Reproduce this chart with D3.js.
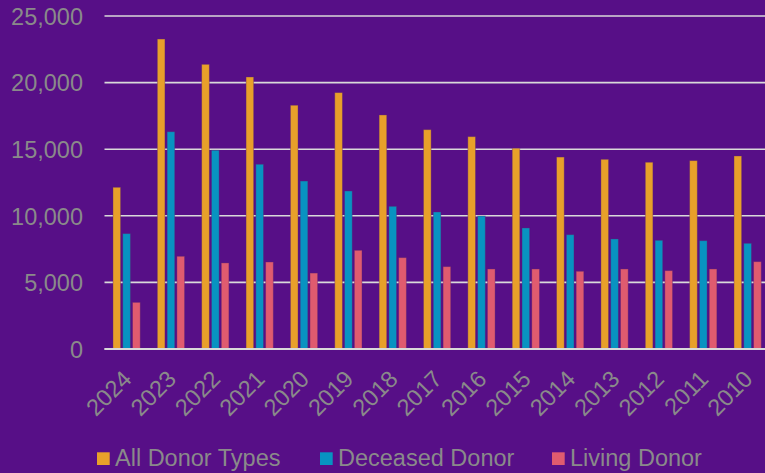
<!DOCTYPE html>
<html><head><meta charset="utf-8">
<script src="https://cdn.jsdelivr.net/npm/d3@7"></script>
<style>html,body{margin:0;padding:0;background:#570f87;}svg{display:block;}</style>
</head><body>
<svg id="chart" width="765" height="473"></svg>
<script>
const years = ["2024","2023","2022","2021","2020","2019","2018","2017","2016","2015","2014","2013","2012","2011","2010"];
const allDonor = [12140,23270,21370,20420,18300,19245,17570,16465,15940,15070,14410,14240,14020,14140,14490];
const deceased = [8660,16310,14920,13870,12610,11860,10710,10285,9985,9085,8580,8260,8160,8130,7935];
const living = [3500,6960,6460,6530,5700,7410,6855,6180,6005,6005,5835,6005,5880,6005,6555];
const seriesNames = ["All Donor Types","Deceased Donor","Living Donor"];
const colors = ["#e8a02a","#0893c1","#e05b6f"];
const yTicks = [0,5000,10000,15000,20000,25000];

const svg = d3.select("#chart");
const W = 765, H = 473;
const left = 104.5, step = 44.36;
const x = d3.scaleBand().domain(years).range([left, left + step*years.length]).paddingInner(0).paddingOuter(0);
const y = d3.scaleLinear().domain([0,25000]).range([349,16]);
const inner = d3.scaleBand().domain([0,1,2]).range([0, 29.4]);
const xOff = (step - 29.4)/2 + 1;

const font = "'Liberation Sans', Arial, sans-serif";
const txt = "#8a8a8a";

// gridlines
svg.append("g").selectAll("line").data(yTicks).join("line")
  .attr("x1", left).attr("x2", W)
  .attr("y1", d => y(d)).attr("y2", d => y(d))
  .attr("stroke", "#d9d9d9").attr("stroke-width", 1.6);

// y axis labels
const yAxis = d3.axisLeft(y).tickValues(yTicks).tickFormat(d3.format(",")).tickSize(0).tickPadding(0);
const gy = svg.append("g").attr("transform", "translate(83,0)").call(yAxis);
gy.select(".domain").remove();
gy.selectAll("text").attr("fill", txt).style("font-family", font).style("font-size", "23.5px").attr("dy","0.35em");

// bars
const series = [allDonor, deceased, living];
series.forEach((vals, si) => {
  svg.append("g").selectAll("rect").data(vals).join("rect")
    .attr("x", (d,i) => x(years[i]) + xOff + inner(si))
    .attr("width", 7.6)
    .attr("y", d => y(d))
    .attr("height", d => y(0) - y(d))
    .attr("fill", colors[si])
    .attr("stroke", "rgba(90,40,110,0.45)").attr("stroke-width", 0.8);
});

// baseline
svg.append("line").attr("x1", left).attr("x2", W).attr("y1", y(0)).attr("y2", y(0))
  .attr("stroke", "#d9d9d9").attr("stroke-width", 1.8);

// x axis labels
const xAxis = d3.axisBottom(x).tickSize(0).tickPadding(0);
const gx = svg.append("g").attr("transform", "translate(0,349)").call(xAxis);
gx.select(".domain").remove();
gx.selectAll("text")
  .attr("fill", txt).style("font-family", font).style("font-size", "23.5px")
  .attr("text-anchor", "end")
  .attr("dy", null).attr("y", 0)
  .attr("transform", "translate(2,27) rotate(-45)")
  .attr("dominant-baseline", "middle");

// legend
const legX = [97, 320, 552];
const leg = svg.append("g");
seriesNames.forEach((n, i) => {
  leg.append("rect").attr("x", legX[i]).attr("y", 452.3).attr("width", 12.7).attr("height", 12.7).attr("fill", colors[i]);
  leg.append("text").attr("x", legX[i] + 18).attr("y", 466).attr("fill", txt)
    .style("font-family", font).style("font-size", "23.5px").text(n);
});
</script>
</body></html>
